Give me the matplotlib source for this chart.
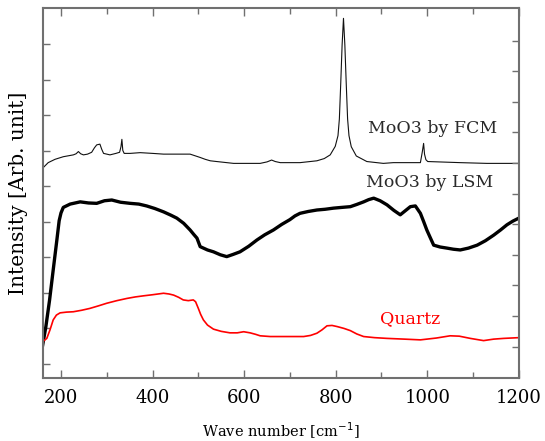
import matplotlib
matplotlib.use("Agg")
import matplotlib.pyplot as plt
from matplotlib.ticker import MultipleLocator, NullFormatter

# ---- data (arbitrary intensity units) ----
fcm_x = [160, 172, 187, 205, 227, 233, 238, 243, 249, 258, 267, 273, 278, 285, 289, 293,
         307, 320, 328, 331, 333, 335, 338, 351, 373, 400, 424, 455, 482, 504, 515, 526,
         540, 577, 635, 650, 660, 668, 679, 722, 759, 775, 788, 799, 805, 808, 811, 814,
         817, 820, 823, 826, 829, 834, 845, 868, 904, 926, 985, 989, 992, 994, 997, 1001,
         1072, 1130, 1200]
fcm_y = [56.7, 58.2, 59.1, 59.8, 60.3, 60.6, 61.2, 60.6, 60.3, 60.5, 61.0, 62.2, 63.0, 63.2, 61.8, 60.7,
         60.3, 60.7, 61.0, 62.5, 64.5, 61.5, 60.7, 60.7, 60.9, 60.7, 60.5, 60.5, 60.5, 59.6, 59.1, 58.7,
         58.5, 58.0, 58.0, 58.4, 58.9, 58.5, 58.2, 58.2, 58.7, 59.3, 60.3, 62.6, 65.5, 70.0, 79.6, 90.0,
         97.2, 90.0, 79.6, 70.0, 65.5, 62.5, 60.0, 58.5, 58.0, 58.2, 58.2, 61.0, 63.4, 60.5, 59.0, 58.5,
         58.2, 58.0, 58.0]

lsm_x = [160, 167, 175, 183, 191, 196, 200, 205, 220, 242, 260, 278, 295, 311, 330, 351, 370,
         387, 405, 424, 440, 453, 468, 482, 490, 497, 504, 520, 533, 548, 562, 576, 591, 610,
         628, 645, 664, 682, 700, 711, 722, 740, 759, 777, 795, 813, 832, 846, 861, 872, 883, 897,
         912, 927, 941, 952, 963, 974, 985, 992, 999, 1007, 1014, 1028, 1043, 1057, 1072, 1090,
         1109, 1127, 1145, 1160, 1174, 1187, 1200]
lsm_y = [8.9, 13.9, 21.0, 29.2, 37.3, 42.5, 44.6, 46.1, 47.0, 47.6, 47.3, 47.2, 47.9, 48.1, 47.5, 47.2, 47.0,
         46.5, 45.8, 44.9, 44.0, 43.2, 41.8, 40.0, 38.8, 37.8, 35.5, 34.6, 34.1, 33.3, 32.8, 33.4, 34.1, 35.6,
         37.3, 38.7, 40.0, 41.5, 42.8, 43.8, 44.5, 45.0, 45.4, 45.6, 45.9, 46.1, 46.3, 46.9, 47.6, 48.2, 48.6, 47.9,
         46.8, 45.3, 44.1, 45.2, 46.3, 46.5, 44.5, 42.3, 40.0, 37.8, 35.9, 35.4, 35.1, 34.8, 34.6, 35.1,
         35.9, 37.1, 38.6, 40.0, 41.4, 42.4, 43.2]

qtz_x = [160, 169, 176, 183, 190, 198, 212, 227, 245, 263, 282, 300, 322, 344, 362, 380, 400,
         424, 436, 446, 457, 467, 478, 489, 494, 500, 505, 511, 520, 533, 550, 569, 585, 599,
         613, 625, 635, 657, 675, 700, 730, 745, 759, 770, 781, 792, 803, 818, 832, 846, 861,
         885, 912, 950, 985, 1020, 1050, 1070, 1094, 1123, 1145, 1167, 1200]
qtz_y = [9.8, 10.7, 13.0, 15.7, 17.0, 17.6, 17.8, 17.9, 18.3, 18.8, 19.5, 20.2, 20.9, 21.5, 21.9, 22.2, 22.5,
         22.9, 22.7, 22.4, 21.8, 21.1, 20.9, 21.1, 20.6, 18.8, 17.2, 15.7, 14.3, 13.2, 12.6, 12.2, 12.2, 12.5,
         12.2, 11.8, 11.4, 11.2, 11.2, 11.2, 11.2, 11.5, 12.1, 13.0, 14.1, 14.2, 13.9, 13.4, 12.8, 11.9, 11.2,
         10.9, 10.7, 10.5, 10.3, 10.8, 11.4, 11.3, 10.7, 10.1, 10.5, 10.7, 10.9]

labels = ["MoO3 by FCM", "MoO3 by LSM", "Quartz"]
x_ticks = [200, 400, 600, 800, 1000, 1200]
left_yticks = [3.8 + 9.6 * k for k in range(10)]
right_yticks = [8.46 + 8.27 * k for k in range(11)]

plt.rcParams['font.family'] = ['DejaVu Serif']
spine_col = '#707070'

fig = plt.figure(figsize=(5.45, 4.41), dpi=100)
ax = fig.add_axes([0.0783, 0.1429, 0.8737, 0.8390])

ax.plot(fcm_x, fcm_y, color='#111111', lw=0.8)
ax.plot(lsm_x, lsm_y, color='#000000', lw=2.4)
ax.plot(qtz_x, qtz_y, color='#ff0000', lw=1.2)

ax.set_xlim(160, 1200)
ax.set_ylim(0, 100)
ax.set_xticks(x_ticks)
ax.xaxis.set_minor_locator(MultipleLocator(100))
ax.set_yticks(left_yticks)
ax.yaxis.set_major_formatter(NullFormatter())

ax.tick_params(axis='x', which='major', direction='in', length=6, width=1.0,
               top=True, bottom=True, color=spine_col, labelsize=13, pad=8)
ax.tick_params(axis='x', which='minor', direction='in', length=4, width=1.0,
               top=True, bottom=True, color=spine_col)
ax.tick_params(axis='y', which='major', direction='in', length=5, width=1.0,
               left=True, right=False, color=spine_col)
for s in ax.spines.values():
    s.set_color(spine_col)
    s.set_linewidth(1.5)

ax2 = ax.twinx()
ax2.set_ylim(0, 100)
ax2.set_yticks(right_yticks)
ax2.yaxis.set_major_formatter(NullFormatter())
ax2.tick_params(axis='y', direction='in', length=5, width=1.0, color=spine_col)
for s in ax2.spines.values():
    s.set_visible(False)

ax.text(1012, 67.3, labels[0], fontsize=12.5, color='#2a2a2a', ha='center', va='center')
ax.text(1005, 52.7, labels[1], fontsize=12.5, color='#2a2a2a', ha='center', va='center')
ax.text(962, 15.9, labels[2], fontsize=12.5, color='#ff0000', ha='center', va='center')

ax.set_xlabel(r'Wave number [cm$^{-1}$]', fontsize=10.5, labelpad=10)
ax.set_ylabel('Intensity [Arb. unit]', fontsize=14.5, labelpad=7)

fig.savefig('out.png', dpi=100)
